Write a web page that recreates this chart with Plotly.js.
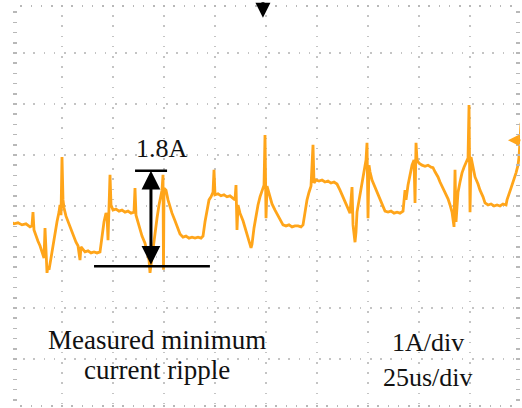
<!DOCTYPE html>
<html>
<head>
<meta charset="utf-8">
<script src="https://cdn.plot.ly/plotly-3.0.1.min.js"></script>
<style>html,body{margin:0;padding:0;background:#fff;}#chart{width:522px;height:408px;}</style>
</head>
<body>
<div id="chart"></div>
<script>
// time in microseconds (25 us/div), current in A (1 A/div, relative to screen centre)
const timeUs = [0,1.47,3.43,5.39,7.35,9.31,10.29,10.78,11.27,12.25,13.24,14.22,15.2,16.18,16.67,17.16,17.65,18.14,18.63,19.61,20.59,21.57,22.55,23.53,24.02,24.51,25,25.49,25.98,26.96,27.94,28.92,29.9,30.88,31.86,32.84,33.82,34.31,35.29,36.27,37.75,39.22,40.69,42.16,43.63,44.12,45.1,45.59,46.57,47.06,47.55,48.04,48.53,49.02,50,51.47,52.94,54.41,55.88,57.35,58.82,60.29,60.78,61.27,62.25,63.24,64.22,65.69,66.67,67.65,68.14,68.63,69.61,70.59,71.57,72.55,73.53,74.02,74.51,74.75,75,75.98,76.96,77.94,78.92,80.39,81.86,82.84,84.31,85.78,87.25,88.73,90.2,91.67,93.14,94.12,95.1,96.08,97.06,98.04,99.02,99.51,100,101.47,102.94,104.41,105.88,107.35,108.82,109.8,110.29,110.78,111.27,112.25,113.73,114.71,115.69,116.67,117.65,118.14,119.12,120.1,121.08,122.06,123.04,124.02,124.51,125,125.49,125.98,126.96,127.94,129.41,130.88,131.86,133.33,134.8,136.27,137.75,139.22,140.69,142.16,143.14,144.12,145.1,146.08,147.06,148.04,148.53,149.51,150.98,152.45,153.92,155.39,156.86,158.33,159.8,161.27,162.75,164.22,165.2,166.18,167.16,167.65,168.63,169.12,169.61,170.59,171.57,172.55,173.53,174.02,174.51,175,175.49,175.98,176.96,178.43,179.9,180.88,182.35,183.33,184.8,186.27,187.75,189.22,190.69,192.16,193.14,193.63,194.61,195.59,196.57,197.55,198.04,198.53,199.02,200,201.47,202.94,204.41,205.88,206.86,207.84,209.31,210.29,211.76,212.75,214.22,215.2,216.18,217.16,217.65,218.14,219.12,220.1,221.08,222.06,223.04,224.02,224.51,225,225.49,226.47,227.45,228.92,229.9,231.37,232.35,233.82,235.29,236.76,238.24,239.71,241.18,242.65,243.14,245.1,246.57,247.55,248.53,249.02,249.51,250];
const currentA = [-0.31,-0.35,-0.33,-0.37,-0.35,-0.41,-0.39,-0.12,-0.47,-0.59,-0.69,-0.78,-0.9,-1.02,-0.43,-1.1,-1.31,-1.18,-1.25,-1.02,-0.76,-0.51,-0.31,-0.12,0.02,-0.18,0.96,0.12,-0.04,-0.2,-0.31,-0.39,-0.51,-0.63,-0.71,-0.78,-1.06,-0.8,-0.86,-0.9,-0.88,-0.92,-0.9,-0.92,-0.9,-0.76,-0.51,-0.31,-0.14,-0.18,-0.67,-0.12,0.61,0.02,-0.08,-0.06,-0.1,-0.08,-0.12,-0.1,-0.14,-0.12,0.35,-0.18,-0.31,-0.47,-0.59,-0.73,-0.9,-1.06,-1.31,-1.14,-0.82,-0.51,-0.24,0.02,0.2,0.31,0.61,-1.25,0.35,0.31,0.12,-0.02,-0.14,-0.29,-0.45,-0.55,-0.61,-0.59,-0.63,-0.61,-0.63,-0.61,-0.63,-0.59,-0.31,-0.08,0.12,0.18,0.27,0.71,0.22,0.24,0.2,0.22,0.18,0.2,0.14,0.12,0.41,-0.47,0.02,-0.14,-0.29,-0.41,-0.55,-0.69,-0.82,-0.75,-0.43,-0.18,0.02,0.18,0.31,0.41,1.39,-0.24,0.39,0.31,0.18,0.04,-0.08,-0.2,-0.27,-0.37,-0.39,-0.37,-0.41,-0.39,-0.39,-0.41,-0.37,-0.08,0.12,0.27,0.39,1.2,0.45,0.51,0.49,0.51,0.47,0.49,0.45,0.47,0.43,0.31,0.18,0.06,-0.04,-0.14,0.37,-0.37,-0.71,-0.51,-0.12,0.12,0.31,0.55,0.76,0.9,1.24,-0.24,0.8,0.67,0.51,0.37,0.22,0.12,-0.04,-0.1,-0.12,-0.1,-0.14,-0.12,-0.14,-0.1,0.31,0.12,0.41,0.65,0.8,0.9,0.06,1.24,0.9,0.84,0.8,0.78,0.8,0.76,0.75,0.67,0.57,0.47,0.35,0.25,0.14,0.02,-0.12,-0.41,0.71,-0.31,0.27,0.47,0.65,0.76,0.86,0.94,1.98,-0.12,0.96,0.75,0.57,0.43,0.31,0.18,0.06,0.02,0.04,0.0,0.02,0.0,0.04,0.02,0.12,0.35,0.51,0.65,0.8,0.96,1.29,1.63];

// measured ripple (A) and its label
const rippleMaxA = 0.69;
const rippleMinA = -1.18;
const rippleLabel = '1.8A';
const textLabels = ['Measured minimum', 'current ripple', '1A/div', '25us/div'];

const xRange = [0.98, 249.5];
const yRange = [-3.94, 3.94];
const gridColor = '#c4c4c4';
const tickColor = '#b8b8b8';
const serif = 'Liberation Serif';

const trace = {
  x: timeUs, y: currentA, type: 'scatter', mode: 'lines',
  line: {color: '#FFA51A', width: 2.8}, hoverinfo: 'skip'
};

function baseAxis(extra) {
  return Object.assign({
    showticklabels: false, showline: false, zeroline: false, fixedrange: true
  }, extra);
}

const layout = {
  width: 522, height: 408,
  margin: {l: 13, r: 2, t: 5, b: 1, pad: 0},
  paper_bgcolor: '#ffffff', plot_bgcolor: '#ffffff',
  showlegend: false,
  font: {family: serif},
  xaxis: baseAxis({
    range: xRange, tick0: 0, dtick: 25,
    showgrid: true, gridcolor: gridColor, gridwidth: 1.6, griddash: '1.6px,8.6px',
    ticks: 'inside', ticklen: 2, tickcolor: tickColor, tickwidth: 1.6, mirror: 'allticks',
    minor: {tick0: 0, dtick: 5, ticks: 'inside', ticklen: 2, tickcolor: tickColor, tickwidth: 1.6, showgrid: false}
  }),
  yaxis: baseAxis({
    range: yRange, tick0: 0, dtick: 1,
    showgrid: true, gridcolor: gridColor, gridwidth: 1.6, griddash: '1.6px,8.6px',
    ticks: 'inside', ticklen: 4, tickcolor: tickColor, tickwidth: 1.5, mirror: 'allticks',
    minor: {tick0: 0, dtick: 0.2, ticks: 'inside', ticklen: 4, tickcolor: tickColor, tickwidth: 1.5, showgrid: false}
  }),
  // centre cross tick marks
  xaxis2: baseAxis({overlaying: 'x', anchor: 'free', position: 0.5, side: 'bottom', range: xRange,
    tick0: 0, dtick: 5, ticks: 'outside', ticklen: 2, tickcolor: tickColor, tickwidth: 1.5, showgrid: false}),
  xaxis3: baseAxis({overlaying: 'x', anchor: 'free', position: 0.5, side: 'top', range: xRange,
    tick0: 0, dtick: 5, ticks: 'outside', ticklen: 2, tickcolor: tickColor, tickwidth: 1.5, showgrid: false}),
  yaxis2: baseAxis({overlaying: 'y', anchor: 'free', position: 0.5, side: 'left', range: yRange,
    tick0: 0, dtick: 0.2, ticks: 'outside', ticklen: 3, tickcolor: tickColor, tickwidth: 1.5, showgrid: false}),
  yaxis3: baseAxis({overlaying: 'y', anchor: 'free', position: 0.5, side: 'right', range: yRange,
    tick0: 0, dtick: 0.2, ticks: 'outside', ticklen: 3, tickcolor: tickColor, tickwidth: 1.5, showgrid: false}),
  shapes: [
    {type: 'line', xref: 'x', yref: 'y', x0: 60.8, x1: 76.5, y0: rippleMaxA, y1: rippleMaxA, line: {color: '#000', width: 2.5}},
    {type: 'line', xref: 'x', yref: 'y', x0: 40.7, x1: 97.5, y0: rippleMinA, y1: rippleMinA, line: {color: '#000', width: 2.5}}
  ],
  annotations: [
    {x: 68.6, y: rippleMaxA, ax: 68.6, ay: rippleMinA, xref: 'x', yref: 'y', axref: 'x', ayref: 'y',
     text: '', showarrow: true, arrowside: 'end+start', arrowhead: 2, arrowsize: 1.25, arrowwidth: 3, arrowcolor: '#000', standoff: 0, startstandoff: 0},
    {x: 74.0, y: 1.13, xref: 'x', yref: 'y', text: rippleLabel, showarrow: false, xanchor: 'center', yanchor: 'middle',
     font: {family: serif, size: 26, color: '#111'}},
    {x: 71.6, y: -2.62, xref: 'x', yref: 'y', text: textLabels[0], showarrow: false, xanchor: 'center', yanchor: 'middle',
     font: {family: serif, size: 27, color: '#111'}},
    {x: 71.6, y: -3.21, xref: 'x', yref: 'y', text: textLabels[1], showarrow: false, xanchor: 'center', yanchor: 'middle',
     font: {family: serif, size: 27, color: '#111'}},
    {x: 204.4, y: -2.68, xref: 'x', yref: 'y', text: textLabels[2], showarrow: false, xanchor: 'center', yanchor: 'middle',
     font: {family: serif, size: 26, color: '#111'}},
    {x: 204.4, y: -3.36, xref: 'x', yref: 'y', text: textLabels[3], showarrow: false, xanchor: 'center', yanchor: 'middle',
     font: {family: serif, size: 26, color: '#111'}},
    // trigger position marker (top)
    {x: 123.5, y: 0.968, xref: 'x', yref: 'paper', ax: 0, ay: -17, text: '', showarrow: true,
     arrowhead: 2, arrowsize: 1.0, arrowwidth: 3, arrowcolor: '#000', standoff: 0},
    // channel level marker (right)
    {x: 243.6, y: 1.29, xref: 'x', yref: 'y', ax: 14, ay: 0, text: '', showarrow: true,
     arrowhead: 2, arrowsize: 1.1, arrowwidth: 2, arrowcolor: '#FFA51A', standoff: 0}
  ]
};

Plotly.newPlot('chart', [trace], layout, {staticPlot: true, displayModeBar: false});
</script>
</body>
</html>
